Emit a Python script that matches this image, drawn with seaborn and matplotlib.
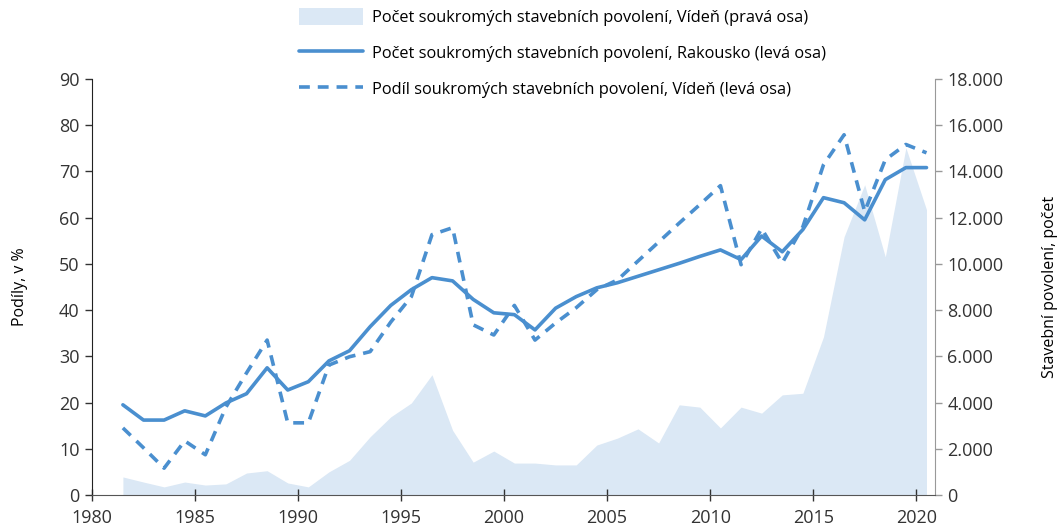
import numpy as np
import pandas as pd
import matplotlib.pyplot as plt
import matplotlib.ticker as mticker
from matplotlib.patches import Patch
from matplotlib.lines import Line2D
import seaborn as sns

years = list(range(1981, 2021))

# pocet soukromych stavebnich povoleni, Viden (prava osa)
vienna_permits = [780, 560, 350, 560, 430, 480, 950, 1050, 520, 350,
                  1000, 1500, 2520, 3380, 3980, 5200, 2800, 1420, 1900, 1380,
                  1380, 1300, 1300, 2160, 2460, 2860, 2250, 3900, 3800, 2900,
                  3800, 3540, 4330, 4400, 6840, 11170, 13420, 10300, 15020, 12340]

# podil soukromych povoleni, Rakousko (leva osa)
austria_share = [19.5, 16.2, 16.2, 18.2, 17.1, 19.9, 21.9, 27.5, 22.7, 24.5,
                 29.0, 31.2, 36.4, 41.0, 44.4, 47.0, 46.3, 42.3, 39.4, 39.0,
                 35.7, 40.4, 42.9, 44.8, 45.9, 47.3, 48.7, 50.1, 51.6, 53.0,
                 50.9, 56.0, 52.6, 57.4, 64.3, 63.2, 59.5, 68.2, 70.8, 70.8]

# podil soukromych povoleni, Viden (leva osa)
vienna_share = [14.5, 10.2, 5.8, 11.7, 8.7, 19.0, 26.4, 33.5, 15.6, 15.6,
                28.1, 29.9, 31.0, 37.4, 42.9, 56.3, 57.8, 36.8, 34.6, 41.0,
                33.5, 37.2, 40.5, 44.4, 46.5, 50.6, 54.7, 58.8, 62.8, 66.9,
                49.8, 57.6, 50.2, 58.0, 71.4, 77.9, 61.3, 72.5, 75.8, 74.0]

labels = ['Počet soukromých stavebních povolení, Vídeň (pravá osa)',
          'Počet soukromých stavebních povolení, Rakousko (levá osa)',
          'Podíl soukromých stavebních povolení, Vídeň (levá osa)']

line_color = '#4a8fcf'
area_color = '#dbe8f5'
text_color = '#333333'

df = pd.DataFrame({'year': years, 'permits': vienna_permits,
                   'austria': austria_share, 'vienna': vienna_share})
# values sit in the middle of each year
df['x'] = df['year'] + 0.5

sns.set_style('white')
plt.rcParams['font.family'] = ['Open Sans', 'DejaVu Sans']

fig = plt.figure(figsize=(10.61, 5.29), dpi=100)
ax = fig.add_axes([0.0867, 0.0643, 0.7943, 0.7867])
ax2 = ax.twinx()

ax2.fill_between(df['x'], df['permits'], color=area_color, lw=0)
sns.lineplot(data=df, x='x', y='austria', ax=ax, color=line_color, lw=2.6)
sns.lineplot(data=df, x='x', y='vienna', ax=ax, color=line_color, lw=2.6,
             linestyle=(0, (3, 2.2)))

ax.set_zorder(ax2.get_zorder() + 1)
ax.patch.set_visible(False)

ax.set_xlim(1980, 2020.9)
ax.set_ylim(0, 90)
ax2.set_ylim(0, 18000)
ax.set_xticks(range(1980, 2021, 5))
ax.set_yticks(range(0, 91, 10))
ax2.set_yticks(range(0, 18001, 2000))
ax2.yaxis.set_major_formatter(mticker.FuncFormatter(
    lambda v, p: f'{int(v):,}'.replace(',', '.')))

ax.set_xlabel('')
ax.set_ylabel('Podíly, v %', fontsize=11.5, color='black', labelpad=22)
ax2.set_ylabel('Stavební povolení, počet', fontsize=11.5, color='black',
               labelpad=28)

for a in (ax, ax2):
    for s in a.spines.values():
        s.set_visible(False)
ax.spines['left'].set_visible(True)
ax.spines['left'].set_color('#222222')
ax.spines['bottom'].set_visible(True)
ax.spines['bottom'].set_color('#555555')
ax2.spines['right'].set_visible(True)
ax2.spines['right'].set_color('#999999')

ax.tick_params(axis='x', direction='inout', length=8, width=1, color='#333333',
               labelsize=13, labelcolor=text_color, pad=6, bottom=True)
ax.tick_params(axis='y', direction='out', length=5, width=1, color='#333333',
               labelsize=13, labelcolor=text_color, pad=4, left=True)
ax2.tick_params(axis='y', direction='out', length=5, width=1, color='#999999',
                labelsize=13, labelcolor=text_color, pad=4, right=True)

handles = [Patch(facecolor=area_color, edgecolor='none'),
           Line2D([], [], color=line_color, lw=2.6),
           Line2D([], [], color=line_color, lw=2.6, linestyle=(0, (3, 2.2)))]
fig.legend(handles, labels, loc='upper left', bbox_to_anchor=(0.268, 1.012),
           frameon=False, fontsize=11.8, handlelength=3.9, handleheight=1.2,
           labelspacing=1.1, handletextpad=0.55, labelcolor='black')

fig.savefig('out.png', dpi=100)
